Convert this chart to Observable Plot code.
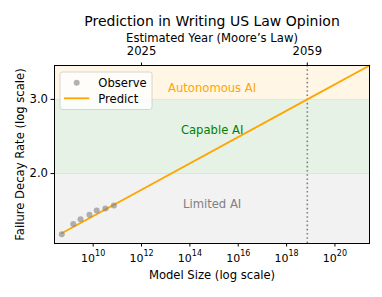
<!DOCTYPE html>
<html>
<head>
<meta charset="utf-8">
<script src="https://cdn.jsdelivr.net/npm/d3@7"></script>
<script src="https://cdn.jsdelivr.net/npm/@observablehq/plot@0.6"></script>
<style>
  html, body { margin: 0; padding: 0; background: white; }
  svg text { font-family: "DejaVu Sans", sans-serif; }
</style>
</head>
<body>
<div id="chart"></div>
<script>
// ---- data ----
const titleText = "Prediction in Writing US Law Opinion";
const topAxisLabel = "Estimated Year (Moore\u2019s Law)";
const xAxisLabel = "Model Size (log scale)";
const yAxisLabel = "Failure Decay Rate (log scale)";

const observedSizes = [0.5e9, 1.5e9, 3e9, 7e9, 14e9, 32e9, 72e9];
const observedRates = [1.436, 1.519, 1.559, 1.597, 1.634, 1.652, 1.679];

const predictSizes = [0.5e9, 7.2e18, 2.7e21];
const predictRates = [1.444, 3.0, 3.61];

const xTicks = [1e10, 1e12, 1e14, 1e16, 1e18, 1e20];
const yTicks = [2.0, 3.0];

const years = [2025, 2059];
const yearSizes = [1e12, 7.2e18];
const thresholdSize = 7.2e18;

const bandNames = ["Limited AI", "Capable AI", "Autonomous AI"];
const bandLows = [1.365, 2.0, 3.0];
const bandHighs = [2.0, 3.0, 3.61];
const bandLabelRates = [1.694, 2.54, 3.195];
const bandLabelSize = 8.3e14;

const legendNames = ["Observe", "Predict"];

// ---- styles ----
const bandFills = ["#f2f2f2", "#e6f2e6", "#fff6e5"];
const bandTextColors = ["#808080", "#008000", "#ffa500"];
const FONT = "DejaVu Sans";

const observed = observedSizes.map((s, i) => ({size: s, rate: observedRates[i]}));
const predicted = predictSizes.map((s, i) => ({size: s, rate: predictRates[i]}));
const bands = bandNames.map((n, i) => ({name: n, lo: bandLows[i], hi: bandHighs[i], labelRate: bandLabelRates[i], fill: bandFills[i], color: bandTextColors[i]}));

const expFormat = d => "10^" + Math.round(Math.log10(d));

const plot = Plot.plot({
  width: 382,
  height: 297,
  marginLeft: 54,
  marginRight: 13,
  marginTop: 65,
  marginBottom: 54,
  style: {fontFamily: FONT, fontSize: "11.6px", background: "white", color: "black", overflow: "visible"},
  x: {type: "log", domain: [10 ** 8.40, 10 ** 21.43]},
  y: {type: "log", domain: [1.365, 3.61]},
  color: {type: "identity"},
  marks: [
    Plot.rect(bands, {y1: "lo", y2: "hi", fill: "fill"}),
    Plot.ruleY([2.0], {stroke: "#dbe6d8", strokeWidth: 1}),
    Plot.ruleY([3.0], {stroke: "#e3e8d2", strokeWidth: 1}),
    Plot.text(bands, {x: () => bandLabelSize, y: "labelRate", text: "name", fill: "color", fontSize: 11.6}),
    Plot.ruleX([thresholdSize], {stroke: "#808080", strokeWidth: 1.6, strokeDasharray: "1.6,2.6"}),
    Plot.line(predicted, {x: "size", y: "rate", stroke: "#ffa500", strokeWidth: 1.75}),
    Plot.dot(observed, {x: "size", y: "rate", r: 3, fill: "#808080", fillOpacity: 0.6, stroke: "none"}),
    Plot.frame({stroke: "black", strokeWidth: 1}),
    Plot.axisX({anchor: "bottom", ticks: xTicks, tickFormat: expFormat, tickSize: 3.5, tickPadding: 7, label: null, fontSize: 11}),
    Plot.axisX({anchor: "top", ticks: yearSizes, tickFormat: d => String(years[yearSizes.indexOf(d)]), tickSize: 3.5, tickPadding: 7, label: null, fontSize: 11.6}),
    Plot.axisY({ticks: yTicks, tickFormat: d => d.toFixed(1), tickSize: 3.5, tickPadding: 3, label: null, fontSize: 11.6}),
    Plot.text([titleText], {text: d => d, frameAnchor: "top", lineAnchor: "middle", textAnchor: "middle", dy: -43.5, fontSize: 14}),
    Plot.text([topAxisLabel], {text: d => d, frameAnchor: "top", lineAnchor: "middle", textAnchor: "middle", dy: -27, fontSize: 11.6}),
    Plot.text([xAxisLabel], {text: d => d, frameAnchor: "bottom", lineAnchor: "middle", textAnchor: "middle", dy: 31.6, fontSize: 11.6}),
    Plot.text([yAxisLabel], {text: d => d, frameAnchor: "left", lineAnchor: "middle", textAnchor: "middle", dx: -34.7, rotate: -90, fontSize: 11.6})
  ]
});

const svg = d3.select(plot);

// render 10^n tick labels with a real superscript
svg.selectAll("text").each(function() {
  const t = d3.select(this);
  const m = /^10\^(\d+)$/.exec(t.text());
  if (!m) return;
  t.text("");
  t.append("tspan").text("10");
  t.append("tspan").attr("font-size", "8px").attr("dy", "-5.5").text(m[1]);
});

// legend
const lg = svg.append("g").attr("font-family", FONT).attr("font-size", "11.6px").attr("text-anchor", "start");
lg.append("rect").attr("x", 60).attr("y", 72).attr("width", 92).attr("height", 37.5)
  .attr("rx", 2.5).attr("fill", "white").attr("fill-opacity", 0.8).attr("stroke", "#cccccc").attr("stroke-width", 0.8);
lg.append("circle").attr("cx", 76.7).attr("cy", 82.7).attr("r", 3).attr("fill", "#808080").attr("fill-opacity", 0.6);
lg.append("line").attr("x1", 64).attr("x2", 89.3).attr("y1", 98.3).attr("y2", 98.3).attr("stroke", "#ffa500").attr("stroke-width", 1.75);
lg.append("text").attr("x", 98.3).attr("y", 86.7).text(legendNames[0]);
lg.append("text").attr("x", 98.3).attr("y", 102.5).text(legendNames[1]);

document.getElementById("chart").appendChild(plot);
</script>
</body>
</html>
